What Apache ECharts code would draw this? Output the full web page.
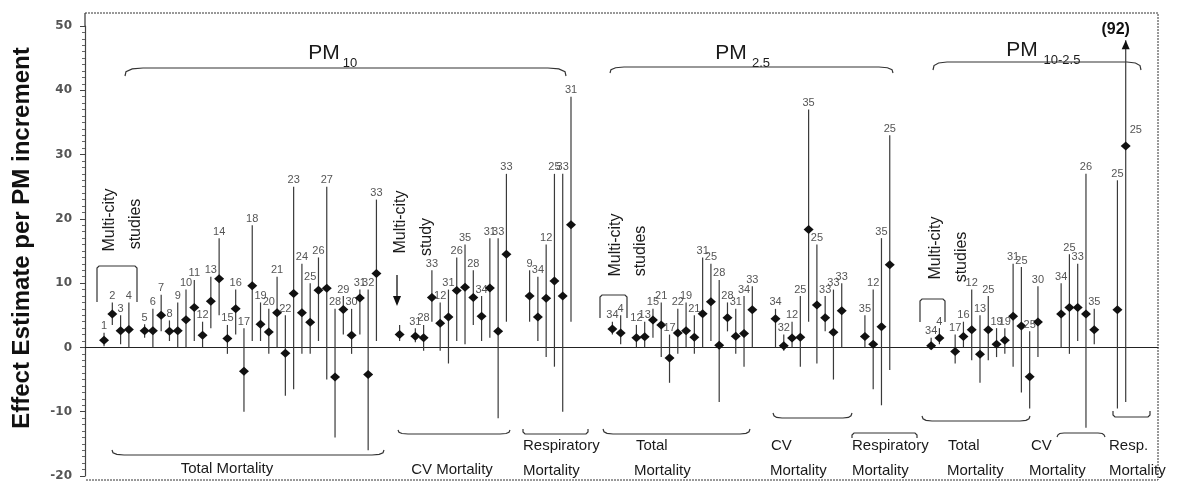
<!DOCTYPE html>
<html><head><meta charset="utf-8">
<script src="https://cdn.jsdelivr.net/npm/echarts@6/dist/echarts.min.js"></script>
<style>html,body{margin:0;padding:0;background:#fff}#c{width:1178px;height:482px}</style>
</head><body><div id="c"></div>
<script>
// ---- data: [study label, estimate, lower CI, upper CI] ----
const pm10Total = [
  ['1',1.1,0.2,2.3],['2',5.2,3.5,7],['3',2.6,0.5,5],['4',2.8,0,7],
  ['5',2.6,1.5,3.6],['6',2.6,0,6],['7',5,2.5,8.2],['8',2.5,1,4.2],['9',2.6,0,7],['10',4.3,0,9],
  ['11',6.2,1,10.5],['12',1.9,0,4],['13',7.2,3,11],['14',10.7,5,17],['15',1.4,-1,3.5],['16',6,2,9],
  ['17',-3.7,-10,3],['18',9.6,1,19],['19',3.6,1,7],['20',2.4,-1,6],['21',5.4,0,11],['22',-0.9,-7.5,5],
  ['23',8.4,-6.5,25],['24',5.4,-1,13],['25',3.9,-1,10],['26',8.9,1,14],['27',9.2,-5,25],['28',-4.6,-14,6],
  ['29',5.9,2,8],['30',1.9,-1,6],['31',7.7,2,9],['32',-4.2,-16,9],['33',11.5,1,23]
];
const pm10CV = [
  ['',2,1,3.5],['31',1.75,0.8,3],['28',1.5,-0.5,3.5],['33',7.75,4,12],['12',3.75,-0.5,7],['31',4.75,-2.5,9],
  ['26',8.85,1,14],['35',9.35,0.5,16],['28',7.75,3.5,12],['34',4.85,1,8],['31',9.25,1.5,17],['33',2.5,-11,17],['33',14.5,4,27]
];
const pm10Resp = [
  ['9',8,4,12],['34',4.75,1,11],['12',7.65,-1.5,16],['25',10.35,-3,27],['33',8,-10,27],['31',19.1,4,39]
];
const pm25Total = [
  ['34',2.85,2,4],['4',2.25,0.5,5],['12',1.5,0,3.5],['13',1.65,0,4],['15',4.25,1.5,6],['21',3.5,-1.5,7],
  ['17',-1.65,-5.5,2],['22',2.25,-1,6],['19',2.6,0,7],['21',1.6,-1,5],['31',5.25,0,14],['25',7.1,1,13],
  ['28',0.35,-8.5,10.5],['28',4.6,2.5,7],['31',1.75,-1,6],['34',2.15,-3,8],['33',5.85,0,9.5]
];
const pm25CV = [
  ['34',4.45,0,6],['32',0.25,-0.5,2],['12',1.45,0,4],['25',1.6,-3,8],['35',18.35,4,37],['25',6.6,-2.5,16],
  ['33',4.6,2.5,8],['33',2.35,-5,9],['33',5.7,0,10]
];
const pm25Resp = [
  ['35',1.7,0,5],['12',0.5,-6.5,9],['35',3.2,-9,17],['25',12.85,-3.5,33]
];
const pm1025Total = [
  ['34',0.25,0,1.5],['4',1.45,0.5,3],['17',-0.65,-2.5,2],['16',1.7,0,4],['12',2.75,-2,9],['13',-1.05,-5.5,5],
  ['25',2.75,-2,8],['19',0.5,-1.5,3],['19',1.1,-1,3],['31',4.85,-3,13],['25',3.35,-7,12.5],['25',-4.55,-9.5,2.5],['30',3.95,-1.5,9.5]
];
const pm1025CV = [
  ['34',5.2,0,10],['25',6.2,-1,14.5],['33',6.2,1,13],['26',5.2,-12.5,27],['35',2.75,0.5,6]
];
const pm1025Resp = [
  ['25',5.85,-9.5,26],['25',31.35,-8.5,92]
];
const yTickValues = [-20,-10,0,10,20,30,40,50];

// group order: [data, number of multi-city studies at start, starts a new PM size?]
const groupOrder = [
  [pm10Total,4,true],[pm10CV,1,false],[pm10Resp,0,false],
  [pm25Total,2,true],[pm25CV,0,false],[pm25Resp,0,false],
  [pm1025Total,2,true],[pm1025CV,0,false],[pm1025Resp,0,false]
];

// ---- layout of study slots (index units) ----
const START = 2.3, STEP = 1, MULTI_STEP = 1.9, GROUP_STEP = 2.8, PM_STEP = 5.0, X_MAX = 129.6;
const Y_MIN = -20, Y_MAX = 50, ARROW_TOP = 47.8;
const seriesData = [], labels = [];
let pos = null;
groupOrder.forEach(([arr, multi, newPM]) => {
  arr.forEach((d, i) => {
    if (pos === null) pos = START;
    else if (i === 0) pos += newPM ? PM_STEP : GROUP_STEP;
    else if (multi > 0 && i === multi) pos += MULTI_STEP;
    else pos += STEP;
    seriesData.push([pos, d[1], d[2], d[3]]);
    labels.push(d[0]);
  });
});

const FONT = 'Liberation Sans, Arial, sans-serif';
function txt(text, x, y, size, opts) {
  opts = opts || {};
  return {type:'text', x, y, rotation: opts.rot || 0, silent:true,
    style:{text, fill: opts.color || '#1a1a1a', font: (opts.weight||'normal') + ' ' + size + 'px ' + (opts.family || FONT),
      align: opts.align || 'center', verticalAlign: opts.va || 'middle',
      textAlign: opts.align || 'center', textVerticalAlign: opts.va || 'middle'}};
}
function pline(points, w, dash) {
  return {type:'polyline', silent:true, shape:{points}, style:{stroke:'#333', lineWidth:w||1.2, fill:null, lineDash: dash || null}};
}
// brace: horizontal bar at y from x1 to x2, ends bent by h (positive = downward ends)
function brace(x1, x2, y, h, r) {
  r = r || 8;
  return pline([[x1, y + h], [x1 + 1, y + h * 0.45], [x1 + r * 0.4, y + h * 0.12], [x1 + r, y],
    [x2 - r, y], [x2 - r * 0.4, y + h * 0.12], [x2 - 1, y + h * 0.45], [x2, y + h]]);
}
function bracket(x1, x2, y, h) {
  return pline([[x1, y + h], [x1, y + 2 * Math.sign(h)], [x1 + 2, y], [x2 - 2, y], [x2, y + 2 * Math.sign(h)], [x2, y + h]]);
}

function renderItem(params, api) {
  const x = api.value(0), est = api.value(1), lo = api.value(2), hi = api.value(3);
  const over = hi > Y_MAX;
  const pT = api.coord([x, over ? ARROW_TOP : hi]);
  const pB = api.coord([x, lo]);
  const pE = api.coord([x, est]);
  const lab = labels[params.dataIndex];
  const ch = [
    {type:'line', shape:{x1:pT[0], y1:pT[1], x2:pB[0], y2:pB[1]}, style:{stroke:'#3a3a3a', lineWidth:1.2}},
    {type:'polygon', shape:{points:[[pE[0],pE[1]-4.5],[pE[0]+5,pE[1]],[pE[0],pE[1]+4.5],[pE[0]-5,pE[1]]]}, style:{fill:'#111'}}
  ];
  if (over) {
    ch.push({type:'polygon', shape:{points:[[pT[0],pT[1]],[pT[0]+4,pT[1]+9],[pT[0]-4,pT[1]+9]]}, style:{fill:'#111'}});
    ch.push({type:'text', style:{text:'(' + Math.round(hi) + ')', x:pT[0]-10, y:pT[1]-3, font:'bold 16px ' + FONT, fill:'#111',
      align:'center', verticalAlign:'bottom', textAlign:'center', textVerticalAlign:'bottom'}});
  }
  if (lab) {
    const lx = over ? pE[0] + 4 : pT[0];
    const ly = over ? pE[1] - 10 : pT[1] - 1;
    ch.push({type:'text', style:{text:lab, x:lx, y:ly, font:'11px Liberation Sans Narrow, ' + FONT, fill:'#555',
      align: over ? 'left' : 'center', verticalAlign:'bottom', textAlign: over ? 'left' : 'center', textVerticalAlign:'bottom'}});
  }
  return {type:'group', children:ch};
}

const graphics = [
  // outer frame (top, right, bottom)
  pline([[85,13],[1158,13],[1158,480],[85,480]], 1, [2,1]),
  pline([[85,13],[85,26]], 1.2),
  // y axis title
  txt('Effect Estimate per PM increment', 22, 238, 24, {rot:Math.PI/2, weight:'bold', color:'#111'}),
  // PM size headings
  txt('PM', 324, 53, 21), txt('10', 350, 63, 13),
  txt('PM', 731, 53, 21), txt('2.5', 761, 63, 13),
  txt('PM', 1022, 50, 21), txt('10-2.5', 1062, 60, 13),
  // top braces
  brace(125, 566, 68, 8, 18),
  brace(610, 893, 67, 6, 14),
  brace(933, 1141, 62, 8, 14),
  // multi-city brackets
  bracket(97, 137, 266, 36),
  bracket(600, 627, 295, 23),
  bracket(920, 945, 299, 23),
  // multi-city texts
  txt('Multi-city', 110, 220, 16, {rot:Math.PI/2}), txt('studies', 136, 224, 16, {rot:Math.PI/2}),
  txt('Multi-city', 401, 222, 16, {rot:Math.PI/2}), txt('study', 427, 237, 16, {rot:Math.PI/2}),
  txt('Multi-city', 616, 245, 16, {rot:Math.PI/2}), txt('studies', 641, 251, 16, {rot:Math.PI/2}),
  txt('Multi-city', 936, 248, 16, {rot:Math.PI/2}), txt('studies', 962, 257, 16, {rot:Math.PI/2}),
  // multi-city arrow (PM10 CV)
  pline([[397,275],[397,300]], 1.5),
  {type:'polygon', silent:true, shape:{points:[[393,296],[401,296],[397,306]]}, style:{fill:'#111'}},
  // bottom braces
  brace(112, 384, 455, -5, 12),
  brace(398, 510, 434, -4, 10),
  bracket(523, 588, 434, -5),
  brace(603, 750, 434, -5, 10),
  brace(773, 852, 418, -5, 9),
  bracket(852, 917, 433, 5),
  brace(922, 1030, 421, -5, 10),
  brace(1057, 1105, 433, 4, 7),
  bracket(1113, 1150, 417, -6),
  // bottom category labels
  txt('Total Mortality', 227, 469, 15),
  txt('CV Mortality', 452, 470, 15),
  txt('Respiratory', 523, 446, 15, {align:'left'}), txt('Mortality', 523, 471, 15, {align:'left'}),
  txt('Total', 636, 446, 15, {align:'left'}), txt('Mortality', 634, 471, 15, {align:'left'}),
  txt('CV', 771, 446, 15, {align:'left'}), txt('Mortality', 770, 471, 15, {align:'left'}),
  txt('Respiratory', 852, 446, 15, {align:'left'}), txt('Mortality', 852, 471, 15, {align:'left'}),
  txt('Total', 948, 446, 15, {align:'left'}), txt('Mortality', 947, 471, 15, {align:'left'}),
  txt('CV', 1031, 446, 15, {align:'left'}), txt('Mortality', 1029, 471, 15, {align:'left'}),
  txt('Resp.', 1109, 446, 15, {align:'left'}), txt('Mortality', 1109, 471, 15, {align:'left'})
];

const chart = echarts.init(document.getElementById('c'), null, {renderer:'canvas'});
chart.setOption({
  animation:false,
  backgroundColor:'#ffffff',
  grid:{left:85, right:20, top:26, bottom:5, show:false},
  xAxis:{type:'value', min:0, max:X_MAX, axisLine:{show:true, onZero:true, lineStyle:{color:'#222', width:1.2}},
    axisTick:{show:false}, axisLabel:{show:false}, splitLine:{show:false}},
  yAxis:{type:'value', min:Y_MIN, max:Y_MAX, interval:10,
    axisLine:{show:true, lineStyle:{color:'#444', width:1.2}},
    axisTick:{show:true, inside:false, length:5, lineStyle:{color:'#444'}},
    minorTick:{show:true, splitNumber:10, length:3, lineStyle:{color:'#666'}},
    axisLabel:{margin:13, fontFamily:'DejaVu Sans', fontWeight:'bold', fontSize:12, color:'#555',
      formatter: v => yTickValues.indexOf(v) >= 0 ? String(v) : ''},
    splitLine:{show:false}},
  series:[{type:'custom', renderItem, data:seriesData, clip:false,
    encode:{x:0, y:[1,2,3]}}],
  graphic:graphics
});
</script>
</body></html>
